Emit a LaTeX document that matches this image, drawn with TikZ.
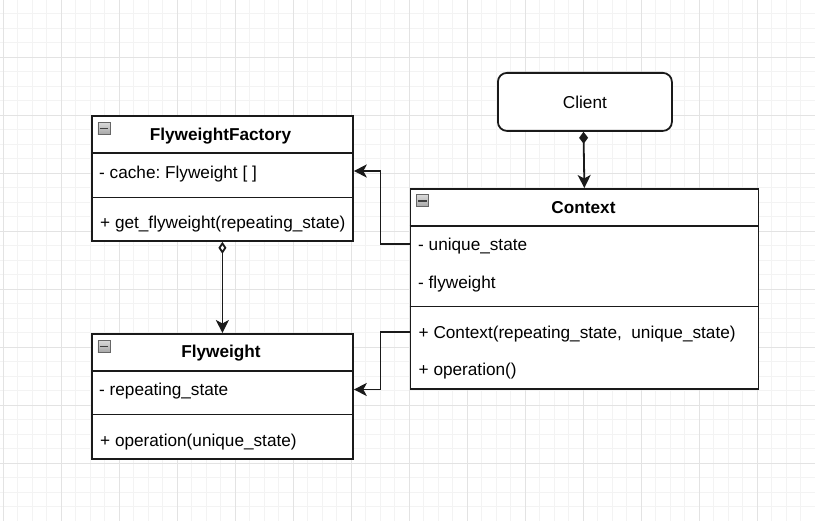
\documentclass[tikz,border=0pt]{standalone}
\usepackage{fontspec}
\setmainfont{Liberation Sans}
\usetikzlibrary{arrows.meta,calc}
\definecolor{gridminor}{HTML}{F3F3F3}
\definecolor{gridmajor}{HTML}{E3E3E3}
\definecolor{edge}{HTML}{1A1A1A}
\frenchspacing
\begin{document}
\begin{tikzpicture}[x=1pt,y=-1pt,
  classbox/.style={draw=edge, line width=1.8pt, fill=white, inner sep=0pt, anchor=north west},
  divider/.style={draw=edge, line width=1.8pt},
  rowtext/.style={anchor=base west, inner sep=0pt, font=\fontsize{17.2}{20}\selectfont},
  titletext/.style={anchor=base, inner sep=0pt, font=\fontsize{17.2}{20}\selectfont\bfseries},
  icon/.style={draw=black!60, line width=0.9pt, top color=gray!30, bottom color=gray!70, minimum size=12pt, inner sep=0pt, anchor=north west},
  conn/.style={draw=edge, line width=1.8pt},
  umlhead/.tip={Stealth[length=13pt,width=13pt,inset=3.5pt]}
]
\useasboundingbox (0,0) rectangle (815,521);
\fill[white] (0,0) rectangle (815,521);
% grid
\foreach \i in {0,...,56} {\draw[gridminor, line width=0.9pt] ({3+14.5*\i},0) -- ({3+14.5*\i},521);}
\foreach \i in {0,...,36} {\draw[gridminor, line width=0.9pt] (0,{-1+14.5*\i}) -- (815,{-1+14.5*\i});}
\foreach \i in {0,...,14} {\draw[gridmajor, line width=0.9pt] ({3+58*\i},0) -- ({3+58*\i},521);}
\foreach \i in {0,...,9} {\draw[gridmajor, line width=0.9pt] (0,{-1+58*\i}) -- (815,{-1+58*\i});}

% Client
\node[draw=edge, line width=1.8pt, fill=white, rounded corners=9pt, minimum width=174pt, minimum height=58pt, inner sep=0pt, anchor=north west, font=\fontsize{17.2}{20}\selectfont] (client) at (497,72) {Client};

% FlyweightFactory
\node[classbox, minimum width=261pt, minimum height=125pt] (ff) at (91,115) {};
\draw[divider] ($(ff.north west)+(0,38)$) -- ($(ff.north east)+(0,38)$);
\draw[divider] ($(ff.north west)+(0,82.5)$) -- ($(ff.north east)+(0,82.5)$);
\node[icon] (ffi) at ($(ff.north west)+(6.5,7)$) {};
\draw[black!75, line width=1.4pt] ($(ffi.west)+(2,0)$) -- ($(ffi.east)+(-2,0)$);
\node[titletext] (fft) at (220.5,141) {FlyweightFactory};
\node[rowtext] (ffcache) at (99,178.3) {- cache: Flyweight [ ]};
\node[rowtext] (ffget) at (100,228.3) {+ get\_flyweight(repeating\_state)};

% Context
\node[classbox, minimum width=348pt, minimum height=200pt] (ctx) at (409.5,188) {};
\draw[divider] ($(ctx.north west)+(0,38)$) -- ($(ctx.north east)+(0,38)$);
\draw[divider] ($(ctx.north west)+(0,118.5)$) -- ($(ctx.north east)+(0,118.5)$);
\node[icon] (ctxi) at ($(ctx.north west)+(6.5,6.5)$) {};
\draw[black!75, line width=1.4pt] ($(ctxi.west)+(2,0)$) -- ($(ctxi.east)+(-2,0)$);
\node[titletext] (ctxt) at (583.5,213.5) {Context};
\node[rowtext] (ctxu) at (418,250.7) {- unique\_state};
\node[rowtext] (ctxf) at (418,288.3) {- flyweight};
\node[rowtext] (ctxc) at (418.5,338.3) {+ Context(repeating\_state,\ \ unique\_state)};
\node[rowtext] (ctxo) at (418.5,375.7) {+ operation()};

% Flyweight
\node[classbox, minimum width=261pt, minimum height=125pt] (fw) at (91,333) {};
\draw[divider] ($(fw.north west)+(0,38)$) -- ($(fw.north east)+(0,38)$);
\draw[divider] ($(fw.north west)+(0,81.5)$) -- ($(fw.north east)+(0,81.5)$);
\node[icon] (fwi) at ($(fw.north west)+(6.5,7)$) {};
\draw[black!75, line width=1.4pt] ($(fwi.west)+(2,0)$) -- ($(fwi.east)+(-2,0)$);
\node[titletext] (fwt) at (221,358) {Flyweight};
\node[rowtext] (fwr) at (99,395.7) {- repeating\_state};
\node[rowtext] (fwo) at (100,446.3) {+ operation(unique\_state)};

% connectors
\draw[conn, {Diamond[length=12pt,width=9pt]}-umlhead] (client.south -| ctxt) -- (ctx.north);
\draw[conn, {Diamond[open,length=12pt,width=8pt,fill=white]}-umlhead] (ff.south) -- (fw.north);
\draw[conn, -umlhead] (ctx.west |- 0,244.3) -- (380.5,244.3) -- (380.5,171) -- (ff.east |- 0,171);
\draw[conn, -umlhead] (ctx.west |- 0,332) -- (380.5,332) -- (380.5,389.5) -- (fw.east |- 0,389.5);
\end{tikzpicture}
\end{document}
